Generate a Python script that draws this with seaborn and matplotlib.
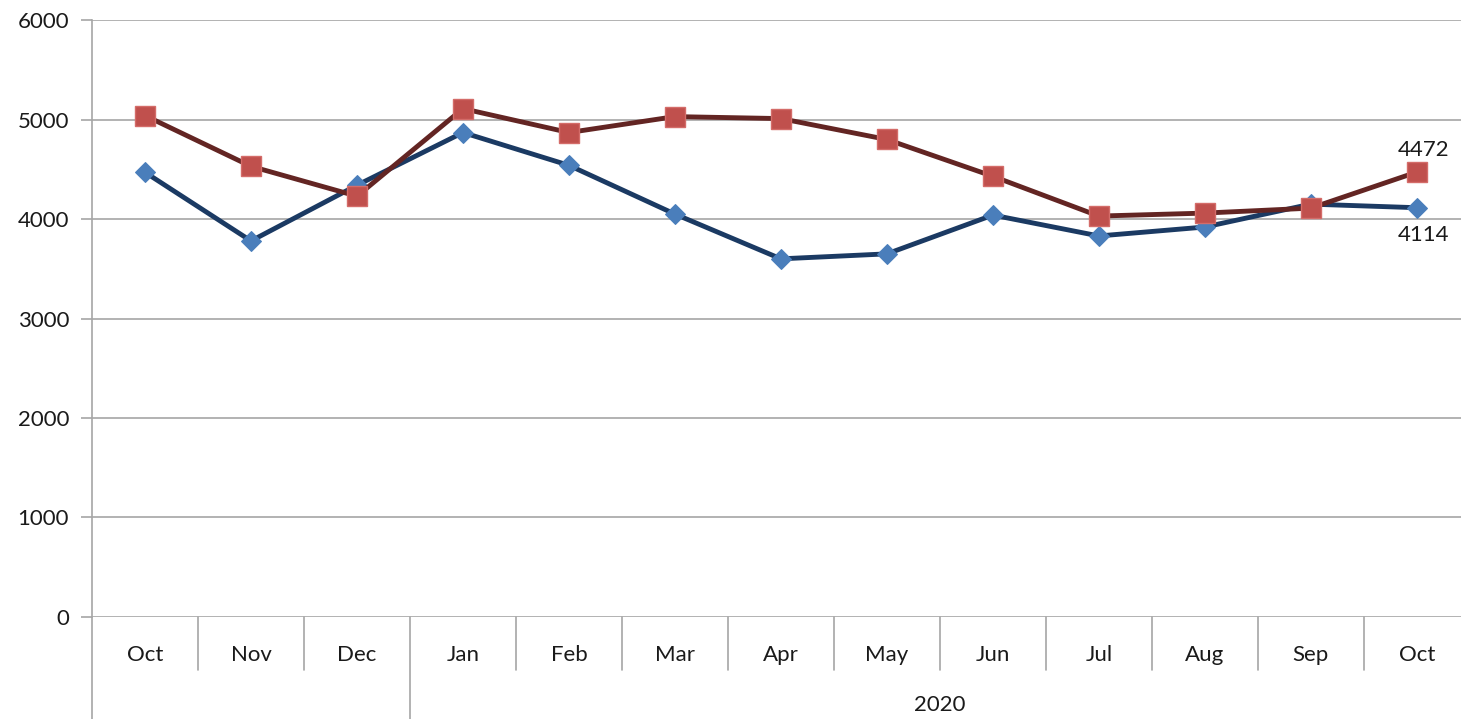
import numpy as np
import pandas as pd
import matplotlib
matplotlib.use("Agg")
import matplotlib.pyplot as plt
import matplotlib.transforms as mtransforms
import seaborn as sns

sns.set_style("white")
plt.rcParams["font.family"] = ["Lato", "DejaVu Sans"]

months = ["Oct", "Nov", "Dec", "Jan", "Feb", "Mar", "Apr",
          "May", "Jun", "Jul", "Aug", "Sep", "Oct"]
blue_vals = [4470, 3780, 4340, 4870, 4540, 4050, 3600,
             3650, 4040, 3830, 3920, 4150, 4114]
red_vals = [5040, 4530, 4230, 5110, 4870, 5030, 5010,
            4800, 4430, 4030, 4060, 4110, 4472]
groups = ["", "2020"]
group_sizes = [3, 10]

pos = np.arange(len(months))
df = pd.DataFrame({"pos": pos, "blue": blue_vals, "red": red_vals})

fig = plt.figure(figsize=(14.61, 7.19), dpi=100)
ax = fig.add_axes([0.063, 0.142, 0.943, 0.830])

sns.lineplot(data=df, x="pos", y="blue", ax=ax, color="#1B3A63",
             linewidth=3.5, marker="D", markersize=10,
             markerfacecolor="#4A7EBB", markeredgecolor="#4A7EBB", zorder=3)
sns.lineplot(data=df, x="pos", y="red", ax=ax, color="#632523",
             linewidth=3.5, marker="s", markersize=15,
             markerfacecolor="#C0504D", markeredgecolor="#D46C69",
             markeredgewidth=1, zorder=4)

ax.set_xlim(-0.5, len(months) - 0.5)
ax.set_ylim(0, 6000)
ax.set_yticks(range(0, 6001, 1000))
ax.yaxis.grid(True, color="#A6A6A6", linewidth=1.2)
ax.set_axisbelow(True)
for s in ["top", "right", "bottom"]:
    ax.spines[s].set_visible(False)
ax.spines["left"].set_color("#A6A6A6")
ax.spines["left"].set_linewidth(1.2)
ax.tick_params(axis="y", which="major", length=8, width=1.2, color="#A6A6A6",
               pad=8.5, labelsize=16, labelcolor="#1A1A1A", left=True)

ax.set_xticks(pos)
ax.set_xticklabels(months, fontsize=16, color="#1A1A1A")
ax.tick_params(axis="x", length=0, pad=20)
ax.set_xlabel("")
ax.set_ylabel("")

# multi-level category axis separators
trans = mtransforms.blended_transform_factory(ax.transData, ax.transAxes)
group_edges = set(np.cumsum([0] + group_sizes) - 0.5)
for b in np.arange(len(months) + 1) - 0.5:
    low = -0.175 if b in group_edges else -0.089
    ax.plot([b, b], [0, low], transform=trans, color="#A6A6A6",
            linewidth=1.2, clip_on=False)

start = 0
for name, size in zip(groups, group_sizes):
    center = start + (size - 1) / 2
    ax.text(center, -0.148, name, transform=trans, ha="center",
            va="center", fontsize=16, color="#1A1A1A")
    start += size

ax.annotate(f"{red_vals[-1]}", (pos[-1], red_vals[-1]), xytext=(5, 16),
            textcoords="offset points", ha="center", va="center",
            fontsize=16, color="#1A1A1A")
ax.annotate(f"{blue_vals[-1]}", (pos[-1], blue_vals[-1]), xytext=(5, -20),
            textcoords="offset points", ha="center", va="center",
            fontsize=16, color="#1A1A1A")

fig.savefig("out.png", dpi=100)
